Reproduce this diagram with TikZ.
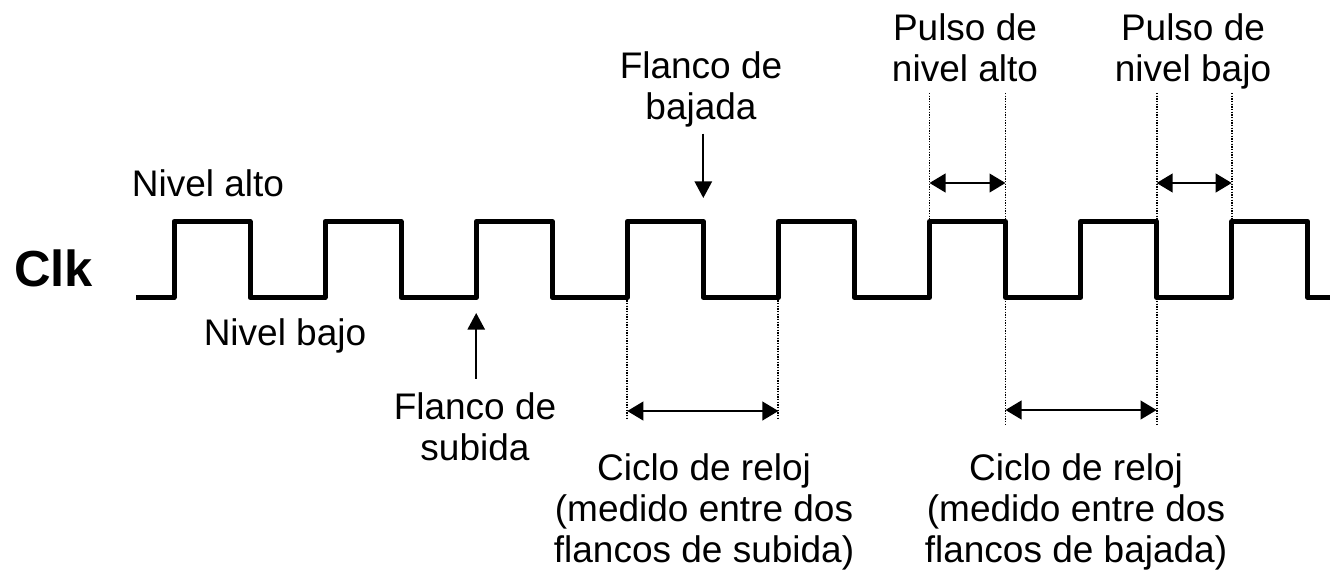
\documentclass[tikz,border=0pt]{standalone}
\usepackage{fontspec}
\setmainfont{Liberation Sans}
\usetikzlibrary{arrows.meta}
\begin{document}
\begin{tikzpicture}[x=0.75pt,y=-0.75pt,
  wave/.style={line width=3.75pt,line join=round},
  guide/.style={line width=1.4pt,dash pattern=on 1pt off 1pt},
  dim/.style={line width=1.5pt,{Triangle[length=12pt,width=14pt]}-{Triangle[length=12pt,width=14pt]}},
  pointer/.style={line width=1.5pt,-{Triangle[length=12.5pt,width=13pt]}},
  lbl/.style={inner sep=0pt,align=center,font=\fontsize{27.75pt}{30.75pt}\selectfont}]
\useasboundingbox (0,0) rectangle (1330,576);
% reference levels
\coordinate (lo) at (0,297.5);
\coordinate (hi) at (0,221.5);
\coordinate (top) at (0,93);
\coordinate (bot1) at (0,420);
\coordinate (bot2) at (0,424);
\coordinate (dimA) at (0,411);
\coordinate (dimC) at (0,410);
\coordinate (dimB) at (0,183);
\coordinate (tipS) at (0,313);
\coordinate (tipB) at (0,198);
\foreach \k in {0,...,7} {
  \coordinate (r\k) at ({174+151.1*\k},0);
  \coordinate (f\k) at ({250+151.1*\k},0);
}
% dotted guides
\draw[guide] (r3 |- lo) -- (r3 |- bot1);
\draw[guide] (r4 |- lo) -- (r4 |- bot1);
\draw[guide] (r5 |- top) -- (r5 |- hi);
\draw[guide] (f5 |- top) -- (f5 |- bot2);
\draw[guide] (f6 |- top) -- (f6 |- bot2);
\draw[guide] (r7 |- top) -- (r7 |- hi);
% waveform
\draw[wave] (136,297.5) foreach \k in {0,...,7} {
  -- ({174+151.1*\k},297.5) -- ({174+151.1*\k},221.5)
  -- ({250+151.1*\k},221.5) -- ({250+151.1*\k},297.5) } -- (1330,297.5);
% dimension arrows
\draw[dim] (r3 |- dimA) -- (r4 |- dimA);
\draw[dim] (f5 |- dimC) -- (f6 |- dimC);
\draw[dim] (r5 |- dimB) -- (f5 |- dimB);
\draw[dim] (f6 |- dimB) -- (r7 |- dimB);
% labels
\node[lbl,font=\fontsize{38pt}{40pt}\selectfont\bfseries,anchor=base] (clk) at (53.5,286) {Clk};
\node[lbl,anchor=base] (alto) at (208,196) {Nivel alto};
\node[lbl,anchor=base] (bajo) at (285,345) {Nivel bajo};
\node[lbl,anchor=north] (subida) at (475,392) {Flanco de\\subida};
\node[lbl,anchor=north] (bajada) at (701,51) {Flanco de\\bajada};
\node[lbl,anchor=north] (ciclo1) at (704,453) {Ciclo de reloj\\(medido entre dos\\flancos de subida)};
\node[lbl,anchor=north] (ciclo2) at (1076,453) {Ciclo de reloj\\(medido entre dos\\flancos de bajada)};
\node[lbl,anchor=north] (pulsoA) at (965,13) {Pulso de\\nivel alto};
\node[lbl,anchor=north] (pulsoB) at (1193,13) {Pulso de\\nivel bajo};
% pointers
\draw[pointer,shorten <=10pt] (subida.north -| r2) -- (r2 |- tipS);
\draw[pointer,shorten <=5pt] (bajada.south -| f3) -- (f3 |- tipB);
\end{tikzpicture}
\end{document}
